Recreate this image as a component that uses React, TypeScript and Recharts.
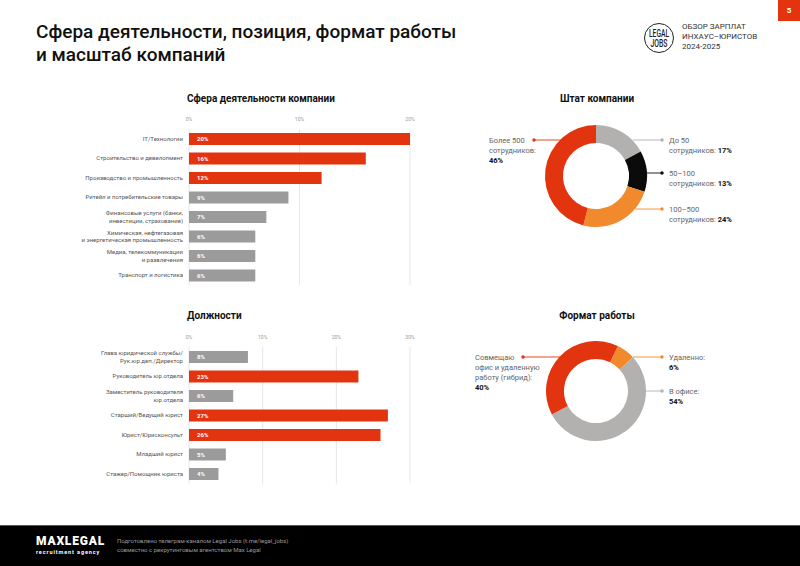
import React from 'react';
import { BarChart, Bar, XAxis, YAxis, CartesianGrid, Cell, LabelList, PieChart, Pie } from 'recharts';

// --- data ---
const industryNames = [
  'IT/Технологии',
  'Строительство и девелопмент',
  'Производство и промышленность',
  'Ритейл и потребительские товары',
  'Финансовые услуги (банки,\nинвестиции, страхование)',
  'Химическая, нефтегазовая\nи энергетическая промышленность',
  'Медиа, телекоммуникации\nи развлечения',
  'Транспорт и логистика',
];
const industryShares = [20, 16, 12, 9, 7, 6, 6, 6];
const industryTicks = [0, 10, 20];

const positionNames = [
  'Глава юридической службы/\nРук.юр.деп./Директор',
  'Руководитель юр.отдела',
  'Заместитель руководителя\nюр.отдела',
  'Старший/Ведущий юрист',
  'Юрист/Юрисконсульт',
  'Младший юрист',
  'Стажер/Помощник юриста',
];
const positionShares = [8, 23, 6, 27, 26, 5, 4];
const positionTicks = [0, 10, 20, 30];

const staffNames = ['До 50 сотрудников', '50–100 сотрудников', '100–500 сотрудников', 'Более 500 сотрудников'];
const staffShares = [17, 13, 24, 46];

const formatNames = ['Удаленно', 'В офисе', 'Совмещаю офис и удаленную работу (гибрид)'];
const formatShares = [6, 54, 40];

// --- styles ---
const RED = '#e2340e';
const BAR_GRAY = '#9b9b9b';
const PIE_GRAY = '#b3b0b0';
const BLACK = '#0b0b0b';
const ORANGE = '#f08a2c';
const staffColors = [PIE_GRAY, BLACK, ORANGE, RED];
const formatColors = [ORANGE, PIE_GRAY, RED];

const NameTick = (props: any) => {
  const { x, y, payload } = props;
  const lines = String(payload.value).split('\n');
  const lh = 7.5;
  const y0 = y - ((lines.length - 1) * lh) / 2;
  return (
    <text textAnchor="end" fontSize={6} fill="#555">
      {lines.map((l, i) => (
        <tspan key={i} x={x + 2} y={y0 + i * lh} dy="0.35em">
          {l}
        </tspan>
      ))}
    </text>
  );
};

function HBars({ names, values, ticks, top }: { names: string[]; values: number[]; ticks: number[]; top: number }) {
  const data = names.map((name, i) => ({ name, value: values[i] }));
  const cutoff = [...values].sort((a, b) => b - a)[2];
  const height = 29 + names.length * 19.5;
  return (
    <div style={{ position: 'absolute', left: 0, top }}>
      <BarChart
        layout="vertical"
        width={420}
        height={height}
        data={data}
        margin={{ top: 9, right: 10, left: 0, bottom: 0 }}
      >
        <CartesianGrid horizontal={false} stroke="#e6e6e6" />
        <XAxis
          type="number"
          orientation="top"
          domain={[0, ticks[ticks.length - 1]]}
          ticks={ticks}
          tickFormatter={(v) => v + '%'}
          axisLine={false}
          tickLine={false}
          tick={{ fontSize: 5, fill: '#999' }}
          height={20}
        />
        <YAxis
          type="category"
          dataKey="name"
          width={189}
          axisLine={false}
          tickLine={false}
          interval={0}
          tick={<NameTick />}
        />
        <Bar dataKey="value" barSize={12} isAnimationActive={false}>
          {data.map((d, i) => (
            <Cell key={i} fill={d.value >= cutoff ? RED : BAR_GRAY} />
          ))}
          <LabelList
            dataKey="value"
            position="insideLeft"
            offset={8}
            formatter={(v: any) => v + '%'}
            fill="#fff"
            fontSize={6}
            fontWeight={700}
          />
        </Bar>
      </BarChart>
    </div>
  );
}

function Donut({ names, values, colors, left, top, r1, r2, start }: any) {
  const data = names.map((name: string, i: number) => ({ name, value: values[i] }));
  return (
    <div style={{ position: 'absolute', left, top }}>
      <PieChart width={120} height={120} margin={{ top: 0, right: 0, bottom: 0, left: 0 }}>
        <Pie
          data={data}
          dataKey="value"
          nameKey="name"
          cx={60}
          cy={60}
          innerRadius={r1}
          outerRadius={r2}
          startAngle={start}
          endAngle={start - 360}
          stroke="none"
          isAnimationActive={false}
        >
          {data.map((_: any, i: number) => (
            <Cell key={i} fill={colors[i]} />
          ))}
        </Pie>
      </PieChart>
    </div>
  );
}

type Note = { x: number; y: number; lines: (string | [string, string])[]; dot: [number, number]; to: number; color: string };

const notes: Note[] = [
  { x: 489, y: 140, lines: ['Более 500', 'сотрудников:', ['', staffShares[3] + '%']], dot: [534, 140], to: 561, color: RED },
  { x: 669, y: 140, lines: ['До 50', ['сотрудников: ', staffShares[0] + '%']], dot: [662, 140], to: 633, color: PIE_GRAY },
  { x: 669, y: 173, lines: ['50–100', ['сотрудников: ', staffShares[1] + '%']], dot: [662, 173], to: 646, color: BLACK },
  { x: 669, y: 209, lines: ['100–500', ['сотрудников: ', staffShares[2] + '%']], dot: [662, 209], to: 635, color: ORANGE },
  { x: 475, y: 357, lines: ['Совмещаю', 'офис и удаленную', 'работу (гибрид):', ['', formatShares[2] + '%']], dot: [523, 357], to: 560, color: RED },
  { x: 669, y: 357, lines: ['Удаленно:', ['', formatShares[0] + '%']], dot: [662, 357], to: 633, color: ORANGE },
  { x: 669, y: 391, lines: ['В офисе:', ['', formatShares[1] + '%']], dot: [662, 391], to: 646, color: PIE_GRAY },
];

export default function App() {
  return (
    <div
      style={{
        position: 'absolute',
        left: 0,
        top: 0,
        width: 800,
        height: 566,
        background: '#fff',
        overflow: 'hidden',
        fontFamily: 'Roboto, "Liberation Sans", sans-serif',
      }}
    >
      <div style={{ position: 'absolute', left: 36, top: 20, fontSize: 19, fontWeight: 500, lineHeight: '23px', color: '#111' }}>
        Сфера деятельности, позиция, формат работы
        <br />
        и масштаб компаний
      </div>
      <div
        style={{
          position: 'absolute',
          left: 778,
          top: 0,
          width: 22,
          height: 21,
          background: RED,
          color: '#fff',
          fontSize: 8,
          fontWeight: 700,
          textAlign: 'center',
          lineHeight: '21px',
        }}
      >
        5
      </div>
      <div style={{ position: 'absolute', left: 682, top: 22, fontSize: 8, lineHeight: '10px', color: '#333' }}>
        ОБЗОР ЗАРПЛАТ
        <br />
        ИНХАУС–ЮРИСТОВ
        <br />
        2024-2025
      </div>

      <div style={{ position: 'absolute', left: 187, top: 93, fontSize: 10, fontWeight: 700, color: '#111' }}>
        Сфера деятельности компании
      </div>
      <div style={{ position: 'absolute', left: 187, top: 310, fontSize: 10, fontWeight: 700, color: '#111' }}>
        Должности
      </div>
      <div style={{ position: 'absolute', left: 500, width: 194, top: 93, fontSize: 10, fontWeight: 700, color: '#111', textAlign: 'center' }}>
        Штат компании
      </div>
      <div style={{ position: 'absolute', left: 500, width: 194, top: 310, fontSize: 10, fontWeight: 700, color: '#111', textAlign: 'center' }}>
        Формат работы
      </div>

      <HBars names={industryNames} values={industryShares} ticks={industryTicks} top={100} />
      <HBars names={positionNames} values={positionShares} ticks={positionTicks} top={318} />

      <Donut names={staffNames} values={staffShares} colors={staffColors} left={536} top={116} r1={33} r2={51} start={90} />
      <Donut names={formatNames} values={formatShares} colors={formatColors} left={536} top={331} r1={32} r2={50} start={64} />

      <svg width={800} height={566} style={{ position: 'absolute', left: 0, top: 0, pointerEvents: 'none' }}>
        <circle cx={659} cy={38} r={14.5} fill="none" stroke="#222" strokeWidth={1} />
        <text x={659} y={37} textAnchor="middle" fontSize={10} fontWeight={500} fill="#222" textLength={20} lengthAdjust="spacingAndGlyphs">
          LEGAL
        </text>
        <text x={659} y={47} textAnchor="middle" fontSize={10} fontWeight={500} fill="#222" textLength={17} lengthAdjust="spacingAndGlyphs">
          JOBS
        </text>
        {notes.map((n, k) => (
          <g key={k}>
            <line x1={n.dot[0]} y1={n.dot[1]} x2={n.to} y2={n.dot[1]} stroke={n.color} strokeWidth={0.9} />
            <circle cx={n.dot[0]} cy={n.dot[1]} r={1.7} fill={n.color} />
            {n.lines.map((l, i) =>
              typeof l === 'string' ? (
                <text key={i} x={n.x} y={n.y + i * 10} dy="0.35em" fontSize={7.5} fill="#666">
                  {l}
                </text>
              ) : (
                <text key={i} x={n.x} y={n.y + i * 10} dy="0.35em" fontSize={7.5} fill="#666">
                  {l[0]}
                  <tspan fontWeight={700} fill="#111">
                    {l[1]}
                  </tspan>
                </text>
              )
            )}
          </g>
        ))}
      </svg>

      <div style={{ position: 'absolute', left: 0, top: 525, width: 800, height: 41, background: '#000', borderTop: '1px solid #555' }}>
        <div style={{ position: 'absolute', left: 36, top: 9, color: '#fff', fontSize: 12, fontWeight: 900, letterSpacing: 0.8, lineHeight: '12px' }}>
          MAXLEGAL
        </div>
        <div style={{ position: 'absolute', left: 36, top: 23, color: '#fff', fontSize: 5.5, letterSpacing: 0.9, lineHeight: '6px', fontWeight: 700 }}>
          recruitment agency
        </div>
        <div style={{ position: 'absolute', left: 117, top: 10, color: '#9a9a9a', fontSize: 6, lineHeight: '9px' }}>
          Подготовлено телеграм-каналом Legal Jobs (t.me/legal_jobs)
          <br />
          совместно с рекрутинговым агентством Max Legal
        </div>
      </div>
    </div>
  );
}
